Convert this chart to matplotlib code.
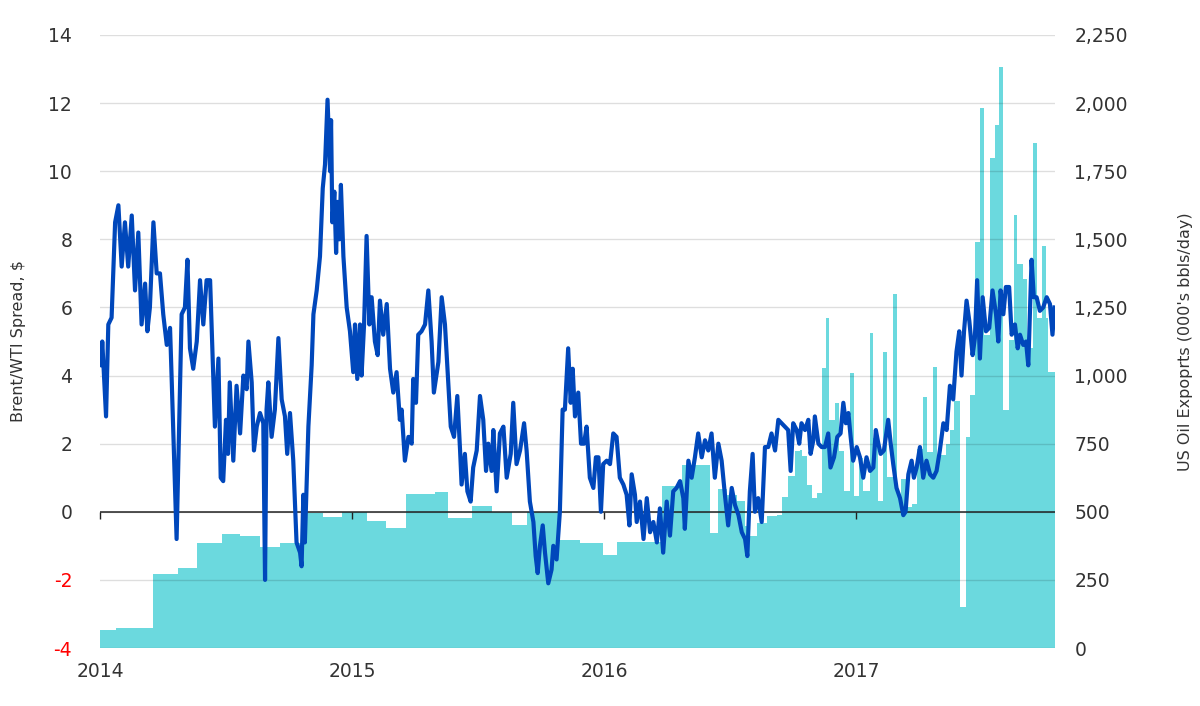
import numpy as np
import matplotlib
matplotlib.use('Agg')
import matplotlib.pyplot as plt
from matplotlib.ticker import FuncFormatter

plt.rcParams['font.family'] = ['DejaVu Sans']
plt.rcParams['axes.unicode_minus'] = False

# Brent/WTI spread, $ (date as decimal year)
spread_t = [
    2014.000, 2014.004, 2014.009, 2014.024, 2014.033, 2014.046, 2014.060, 2014.073, 2014.086, 2014.099,
    2014.112, 2014.126, 2014.139, 2014.152, 2014.165, 2014.179, 2014.188, 2014.198, 2014.212, 2014.225,
    2014.238, 2014.251, 2014.265, 2014.278, 2014.284, 2014.304, 2014.324, 2014.337, 2014.347, 2014.357,
    2014.370, 2014.384, 2014.397, 2014.410, 2014.423, 2014.437, 2014.450, 2014.456, 2014.470, 2014.479,
    2014.489, 2014.500, 2014.508, 2014.515, 2014.529, 2014.542, 2014.556, 2014.569, 2014.582, 2014.589,
    2014.602, 2014.611, 2014.622, 2014.635, 2014.648, 2014.655, 2014.661, 2014.668, 2014.681, 2014.694,
    2014.708, 2014.721, 2014.734, 2014.743, 2014.754, 2014.767, 2014.780, 2014.794, 2014.800, 2014.807,
    2014.813, 2014.827, 2014.840, 2014.847, 2014.860, 2014.873, 2014.884, 2014.893, 2014.903, 2014.913,
    2014.917, 2014.922, 2014.930, 2014.937, 2014.943, 2014.950, 2014.956, 2014.966, 2014.979, 2014.992,
    2015.005, 2015.012, 2015.021, 2015.032, 2015.038, 2015.048, 2015.058, 2015.069, 2015.078, 2015.091,
    2015.102, 2015.111, 2015.124, 2015.138, 2015.151, 2015.164, 2015.177, 2015.190,
    2015.197, 2015.210, 2015.224, 2015.237, 2015.243, 2015.254, 2015.263, 2015.276, 2015.290, 2015.303,
    2015.316, 2015.325, 2015.343, 2015.356, 2015.369, 2015.382, 2015.392, 2015.405, 2015.418, 2015.429,
    2015.435, 2015.448, 2015.458, 2015.471, 2015.481, 2015.495, 2015.508, 2015.521, 2015.532, 2015.541,
    2015.554, 2015.561, 2015.574, 2015.587, 2015.601, 2015.614, 2015.630, 2015.640, 2015.653, 2015.667,
    2015.683, 2015.693, 2015.706, 2015.720, 2015.729, 2015.737, 2015.746, 2015.757, 2015.766, 2015.779,
    2015.792, 2015.799, 2015.812, 2015.825, 2015.836, 2015.845, 2015.858, 2015.868, 2015.876, 2015.885,
    2015.898, 2015.909, 2015.921, 2015.931, 2015.944, 2015.958, 2015.968, 2015.978, 2015.988, 2015.997,
    2016.011, 2016.024, 2016.037, 2016.050, 2016.063, 2016.077, 2016.090, 2016.101, 2016.110, 2016.123,
    2016.130, 2016.143, 2016.157, 2016.170, 2016.183, 2016.196, 2016.210, 2016.222, 2016.235, 2016.249,
    2016.262, 2016.275, 2016.288, 2016.302, 2016.315, 2016.321, 2016.335, 2016.348, 2016.361, 2016.374,
    2016.388, 2016.401, 2016.414, 2016.427, 2016.440, 2016.454, 2016.467, 2016.480, 2016.493, 2016.507,
    2016.520, 2016.534, 2016.547, 2016.560, 2016.569, 2016.579, 2016.590, 2016.599, 2016.612, 2016.626,
    2016.639, 2016.652, 2016.665, 2016.679, 2016.692,
    2016.705, 2016.718, 2016.731, 2016.741, 2016.751, 2016.765, 2016.775, 2016.784, 2016.798, 2016.811,
    2016.820, 2016.831, 2016.837, 2016.851, 2016.864, 2016.877, 2016.890, 2016.899, 2016.913, 2016.926,
    2016.939, 2016.950, 2016.960, 2016.970, 2016.979, 2016.989, 2017.003, 2017.016, 2017.029, 2017.042,
    2017.056, 2017.069, 2017.079, 2017.089, 2017.098, 2017.111, 2017.128, 2017.138, 2017.148, 2017.161,
    2017.175, 2017.188, 2017.197, 2017.208, 2017.221, 2017.230, 2017.241, 2017.254, 2017.267, 2017.280,
    2017.294, 2017.307, 2017.320, 2017.333, 2017.347, 2017.360, 2017.373, 2017.386, 2017.399, 2017.410,
    2017.419, 2017.429, 2017.439, 2017.450, 2017.463, 2017.472, 2017.481, 2017.492, 2017.503, 2017.516,
    2017.529, 2017.542, 2017.556, 2017.565, 2017.574, 2017.585, 2017.595, 2017.608, 2017.618, 2017.631,
    2017.642, 2017.651, 2017.664, 2017.675, 2017.684, 2017.697, 2017.706, 2017.717, 2017.730, 2017.743,
    2017.757, 2017.770, 2017.780, 2017.788,
]
spread = [
    4.9, 4.3, 5.0, 2.8, 5.5, 5.7, 8.5, 9.0, 7.2, 8.5,
    7.2, 8.7, 6.5, 8.2, 5.5, 6.7, 5.3, 6.0, 8.5, 7.0,
    7.0, 5.8, 4.9, 5.4, 4.0, -0.8, 5.8, 6.0, 7.4, 4.8,
    4.2, 5.0, 6.8, 5.5, 6.8, 6.8, 3.8, 2.5, 4.5, 1.0,
    0.9, 2.7, 1.7, 3.8, 1.5, 3.7, 2.3, 4.0, 3.6, 5.0,
    3.8, 1.8, 2.5, 2.9, 2.6, -2.0, 3.0, 3.8, 2.2, 3.0,
    5.1, 3.3, 2.8, 1.7, 2.9, 1.5, -0.9, -1.2, -1.6, 0.5,
    -0.9, 2.5, 4.3, 5.8, 6.5, 7.5, 9.5, 10.2, 12.1, 10.0,
    11.5, 8.5, 9.4, 7.6, 9.1, 8.0, 9.6, 7.5, 6.0, 5.3,
    4.1, 5.5, 3.9, 5.5, 4.0, 5.5, 8.1, 5.5, 6.3, 5.0,
    4.6, 6.2, 5.2, 6.1, 4.2, 3.5, 4.1, 2.7,
    3.0, 1.5, 2.2, 2.0, 3.9, 3.2, 5.2, 5.3, 5.5, 6.5,
    5.0, 3.5, 4.4, 6.3, 5.5, 3.8, 2.5, 2.2, 3.4, 1.8,
    0.8, 1.7, 0.6, 0.3, 1.3, 1.8, 3.4, 2.7, 1.2, 2.0,
    1.2, 2.4, 0.6, 2.3, 2.5, 1.0, 1.7, 3.2, 1.4, 1.8,
    2.6, 1.8, 0.3, -0.3, -1.3, -1.8, -1.0, -0.4, -1.2, -2.1,
    -1.7, -1.0, -1.4, 0.0, 3.0, 3.0, 4.8, 3.2, 4.2, 2.8,
    3.5, 2.0, 2.0, 2.5, 1.0, 0.7, 1.6, 1.6, 0.0, 1.4,
    1.5, 1.4, 2.3, 2.2, 1.0, 0.8, 0.5, -0.4, 1.1, 0.5,
    -0.3, 0.3, -0.8, 0.4, -0.6, -0.3, -0.9, 0.1, -1.2, 0.3,
    -0.7, 0.6, 0.7, 0.9, 0.4, -0.5, 1.5, 1.0, 1.6, 2.3,
    1.6, 2.1, 1.8, 2.3, 1.0, 2.0, 1.5, 0.5, -0.4, 0.7,
    0.2, -0.1, -0.6, -0.8, -1.3, 0.6, 1.7, 0.0, 0.4, -0.3,
    1.9, 1.9, 2.3, 1.8, 2.7,
    2.6, 2.5, 2.4, 1.2, 2.6, 2.4, 2.0, 2.6, 2.4, 2.7,
    1.7, 2.1, 2.8, 2.0, 1.9, 1.9, 2.3, 1.3, 1.6, 2.2,
    2.3, 3.2, 2.6, 2.9, 2.2, 1.5, 1.9, 1.6, 1.0, 1.6,
    1.2, 1.3, 2.4, 2.0, 1.7, 1.8, 2.7, 2.0, 1.4, 0.7,
    0.4, -0.1, 0.0, 1.1, 1.5, 1.0, 1.3, 1.9, 1.0, 1.5,
    1.1, 1.0, 1.2, 1.8, 2.6, 2.4, 3.7, 3.3, 4.7, 5.3,
    4.0, 5.3, 6.2, 5.6, 4.6, 5.1, 6.8, 4.5, 6.3, 5.3,
    5.4, 6.5, 5.8, 5.0, 6.5, 5.8, 6.6, 6.6, 5.2, 5.5,
    4.8, 5.2, 4.9, 5.0, 4.3, 7.4, 6.3, 6.3, 5.9, 6.0,
    6.3, 6.1, 5.2, 6.0,
]

# US oil exports, 000's bbls/day (value holds from each start date)
exports_t = [
    2014.000, 2014.063, 2014.210, 2014.310, 2014.385, 2014.484, 2014.556, 2014.635, 2014.714, 2014.813,
    2014.885, 2014.960, 2015.060, 2015.135, 2015.214, 2015.329, 2015.381, 2015.476, 2015.556, 2015.635,
    2015.694, 2015.825, 2015.905, 2015.996, 2016.052, 2016.230, 2016.310, 2016.421, 2016.452, 2016.488,
    2016.528, 2016.560, 2016.579, 2016.607, 2016.647, 2016.687, 2016.706, 2016.730, 2016.758, 2016.778,
    2016.786, 2016.806, 2016.825, 2016.845, 2016.865, 2016.881, 2016.893, 2016.917, 2016.933, 2016.952,
    2016.976, 2016.992, 2017.012, 2017.028, 2017.056, 2017.067, 2017.087, 2017.107, 2017.123, 2017.147,
    2017.163, 2017.179, 2017.202, 2017.222, 2017.242, 2017.266, 2017.282, 2017.306, 2017.321, 2017.333,
    2017.357, 2017.373, 2017.389, 2017.413, 2017.437, 2017.452, 2017.472, 2017.492, 2017.508, 2017.532,
    2017.552, 2017.567, 2017.583, 2017.607, 2017.627, 2017.639, 2017.663, 2017.679, 2017.702, 2017.718,
    2017.738, 2017.754, 2017.762, 2017.790,
]
exports = [
    65, 72, 272, 295, 384, 417, 412, 372, 384, 496,
    479, 500, 467, 441, 567, 573, 476, 522, 500, 451,
    500, 396, 385, 340, 390, 595, 673, 421, 585, 560,
    540, 447, 411, 459, 483, 489, 555, 630, 723, 728,
    706, 600, 552, 570, 1028, 1210, 837, 898, 722, 576,
    1010, 558, 698, 576, 1155, 770, 540, 1088, 628, 1301,
    561, 620, 518, 530, 732, 921, 720, 1030, 707, 710,
    750, 800, 908, 152, 774, 927, 1490, 1982, 1150, 1799,
    1921, 2133, 872, 1130, 1588, 1409, 1356, 1100, 1852, 1210,
    1474, 1210, 1013, 1013,
]

year_ticks = [2014, 2015, 2016, 2017]
left_ticks = [-4, -2, 0, 2, 4, 6, 8, 10, 12, 14]
right_ticks = list(range(0, 2251, 250))

LINE_COLOR = '#0047BB'
AREA_COLOR = '#6BD9DE'
TEXT_COLOR = '#333333'

fig = plt.figure(figsize=(12, 7.06), dpi=100)
ax = fig.add_axes([100 / 1200, 1 - 648 / 706, 955 / 1200, 613 / 706])
ax2 = ax.twinx()

# exports area behind the spread line
ax2.fill_between(exports_t, exports, step='post', color=AREA_COLOR, linewidth=0)
ax2.set_ylim(0, 2250)
ax2.set_yticks(right_ticks)
ax2.yaxis.set_major_formatter(FuncFormatter(lambda v, p: f'{int(v):,}'))
ax2.tick_params(axis='y', length=0, pad=14, labelsize=13.5, labelcolor=TEXT_COLOR)
ax2.set_ylabel("US Oil Expoprts (000's bbls/day)", fontsize=11.5, color=TEXT_COLOR, labelpad=36)

ax.set_zorder(ax2.get_zorder() + 1)
ax.patch.set_visible(False)

ax.set_ylim(-4, 14)
ax.set_yticks(left_ticks)
ax.grid(axis='y', color='black', alpha=0.13, linewidth=1)
ax.axhline(0, color='#222222', linewidth=1.1, zorder=2)
ax.plot(spread_t, spread, color=LINE_COLOR, linewidth=3.0, zorder=3, solid_joinstyle='round')

ax.set_xlim(2014.0, 2017.79)
ax.set_xticks(year_ticks)
ax.set_xticklabels([str(y) for y in year_ticks])
ax.tick_params(axis='x', length=0, pad=10, labelsize=13.5, labelcolor=TEXT_COLOR)
ax.tick_params(axis='y', length=0, pad=20, labelsize=13.5, labelcolor=TEXT_COLOR)
for lbl, v in zip(ax.get_yticklabels(), left_ticks):
    if v < 0:
        lbl.set_color('#FF0000')
ax.set_ylabel('Brent/WTI Spread, $', fontsize=11.5, color=TEXT_COLOR, labelpad=16)

# small year ticks on the zero line
sec = ax.secondary_xaxis(4 / 18)
sec.set_xticks(year_ticks)
sec.set_xticklabels([])
sec.tick_params(direction='out', length=5, width=1, color='#222222')
sec.spines['bottom'].set_visible(False)

for a in (ax, ax2):
    for s in a.spines.values():
        s.set_visible(False)

fig.savefig('out.png', dpi=100)
